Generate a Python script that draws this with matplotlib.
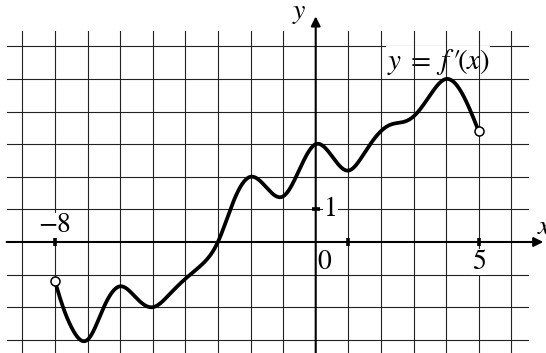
import numpy as np
import matplotlib
matplotlib.use("Agg")
import matplotlib.pyplot as plt

# ---- data ----
curve_x = [-8, -7.75, -7.5, -7, -6.5, -6, -5.5, -5, -4.5, -4, -3.5, -3, -2.5, -2,
           -1.5, -1, -0.5, 0, 0.5, 1, 1.5, 2, 2.25, 2.5, 2.75, 3, 3.5, 4, 4.5, 5]
curve_y = [-1.2, -2.0, -2.6, -3.0, -2.0, -1.36, -1.72, -2.0, -1.62, -1.13, -0.70, 0.0,
           1.30, 2.0, 1.66, 1.40, 2.22, 3.0, 2.63, 2.19, 2.74, 3.40, 3.58, 3.65, 3.70,
           3.85, 4.49, 5.0, 4.54, 3.4]
x_tick_vals = [-8, 1, 5]
y_tick_vals = [1]
x_tick_labels = ["\u22128", "0", "5"]
x_tick_label_vals = [-8, 0, 5]
y_tick_labels = ["1"]
grid_x = list(range(-9, 7))
grid_y = list(range(-3, 7))
func_label = r"$y\;=\;f\,\prime\!(x)$"


def natural_spline(xk, yk, xs):
    xk = np.asarray(xk, float); yk = np.asarray(yk, float)
    n = len(xk)
    h = np.diff(xk)
    A = np.zeros((n, n)); b = np.zeros(n)
    A[0, 0] = 1; A[-1, -1] = 1
    for i in range(1, n - 1):
        A[i, i - 1] = h[i - 1]
        A[i, i] = 2 * (h[i - 1] + h[i])
        A[i, i + 1] = h[i]
        b[i] = 3 * ((yk[i + 1] - yk[i]) / h[i] - (yk[i] - yk[i - 1]) / h[i - 1])
    c = np.linalg.solve(A, b)
    out = np.empty_like(xs)
    idx = np.clip(np.searchsorted(xk, xs) - 1, 0, n - 2)
    for j, (x, i) in enumerate(zip(xs, idx)):
        hi = h[i]
        bi = (yk[i + 1] - yk[i]) / hi - hi * (2 * c[i] + c[i + 1]) / 3
        di = (c[i + 1] - c[i]) / (3 * hi)
        t = x - xk[i]
        out[j] = yk[i] + bi * t + c[i] * t ** 2 + di * t ** 3
    return out


plt.rcParams["mathtext.fontset"] = "stix"
plt.rcParams["font.family"] = ["STIXGeneral", "DejaVu Serif"]

FS = 20

fig = plt.figure(figsize=(5.46, 3.53), dpi=100)
ax = fig.add_axes([0, 0, 1, 1])
ax.set_xlim(-9.684, 7.064)
ax.set_ylim(-3.405, 7.423)
ax.axis("off")

gx0, gx1 = -9.48, 6.51
gy0, gy1 = -3.6, 6.47

for j in grid_y:
    if j != 0:
        ax.plot([gx0, gx1], [j, j], color="#222222", lw=0.8, zorder=1)

# function label (box hides horizontal lines only)
ax.text(3.76, 5.52, func_label, fontsize=21, ha="center", va="center", zorder=2,
        bbox=dict(facecolor="white", edgecolor="none", pad=0.5))

for k in grid_x:
    if k != 0:
        ax.plot([k, k], [gy0, gy1], color="#222222", lw=0.8, zorder=3)

# curve
xs = np.linspace(curve_x[0], curve_x[-1], 800)
ys = natural_spline(curve_x, curve_y, xs)
ax.plot(xs, ys, color="black", lw=2.7, zorder=6, solid_capstyle="round")
ax.plot([curve_x[0], curve_x[-1]], [curve_y[0], curve_y[-1]], "o", ms=6.5,
        mfc="white", mec="black", mew=1.1, zorder=7)

# axes
ax.annotate("", xy=(6.98, 0), xytext=(gx0, 0),
            arrowprops=dict(arrowstyle="-|>", lw=1.5, color="black",
                            mutation_scale=14, shrinkA=0, shrinkB=0), zorder=5)
ax.annotate("", xy=(0, 6.92), xytext=(0, gy0),
            arrowprops=dict(arrowstyle="-|>", lw=1.5, color="black",
                            mutation_scale=14, shrinkA=0, shrinkB=0), zorder=5)

# tick labels
for v, t in zip(x_tick_label_vals, x_tick_labels):
    if v == -8:
        ax.text(v, 0.5, t, fontsize=FS, ha="center", va="center", zorder=4,
                bbox=dict(facecolor="white", edgecolor="none", pad=0.3))
    elif v == 0:
        ax.text(0.04, -0.62, t, fontsize=FS, ha="left", va="center", zorder=4)
    else:
        ax.text(v, -0.62, t, fontsize=FS, ha="center", va="center", zorder=4,
                bbox=dict(facecolor="white", edgecolor="none", pad=0.3))
for v, t in zip(y_tick_vals, y_tick_labels):
    ax.text(0.45, v, t, fontsize=FS, ha="center", va="center", zorder=4,
            bbox=dict(facecolor="white", edgecolor="none", pad=0.3))

# tick marks
for v in x_tick_vals:
    ax.plot([v, v], [-0.12, 0.12], color="black", lw=2.6, zorder=6,
            solid_capstyle="butt")
for v in y_tick_vals:
    ax.plot([-0.12, 0.12], [v, v], color="black", lw=2.6, zorder=6,
            solid_capstyle="butt")

# axis names (the x is partly cut at the right edge, as in the reference)
ax.text(6.8, 0.45, r"$x$", fontsize=FS, ha="left", va="center", zorder=4)
ax.text(-0.5, 7.0, r"$y$", fontsize=FS, ha="center", va="center", zorder=4)

fig.savefig("out.png", dpi=100)
